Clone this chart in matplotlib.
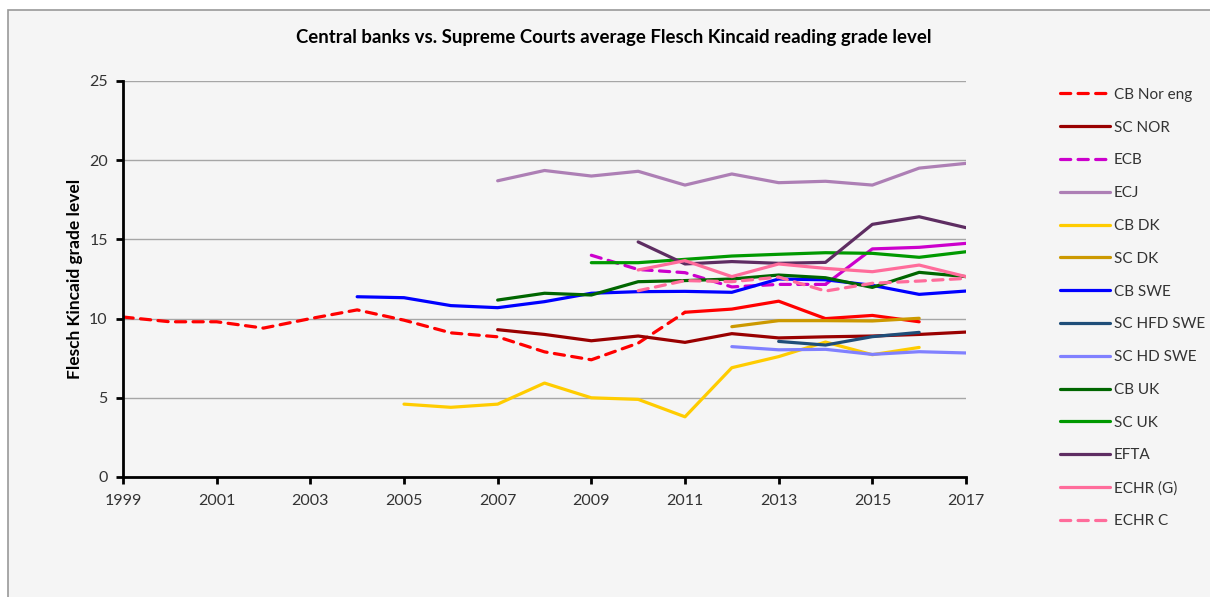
import matplotlib.pyplot as plt
from matplotlib.patches import Rectangle

# years on the category axis
years = list(range(1999, 2018))

# series values (None = no data for that year)
cb_nor_eng = [10.1, 9.8, 9.8, 9.4, 10.0, 10.55, 9.9, 9.1, 8.85, 7.9, 7.4, 8.45,
              10.4, 10.6, 11.1, 10.0, 10.2, 9.8, None]
sc_nor = [None]*8 + [9.3, 9.0, 8.6, 8.9, 8.5, 9.05, 8.78, 8.85, 8.9, 9.0, 9.15]
ecb = [None]*10 + [14.0, 13.1, 12.9, 12.0, 12.16, 12.16, 14.4, 14.5, 14.75]
ecj = [None]*8 + [18.7, 19.35, 19.0, 19.3, 18.43, 19.13, 18.58, 18.67, 18.43, 19.5, 19.8]
cb_dk = [None]*6 + [4.6, 4.4, 4.6, 5.93, 5.0, 4.9, 3.8, 6.9, 7.6, 8.52, 7.72, 8.18, None]
sc_dk = [None]*13 + [9.49, 9.87, 9.87, 9.85, 10.02, None]
cb_swe = [None]*5 + [11.38, 11.32, 10.82, 10.69, 11.07, 11.6, 11.7, 11.72, 11.66,
                     12.5, 12.45, 12.1, 11.53, 11.74]
sc_hfd_swe = [None]*14 + [8.56, 8.33, 8.86, 9.13, None]
sc_hd_swe = [None]*13 + [8.23, 8.03, 8.06, 7.74, 7.91, 7.83]
cb_uk = [None]*8 + [11.17, 11.6, 11.49, 12.33, 12.4, 12.5, 12.75, 12.58, 11.97, 12.92, 12.65]
sc_uk = [None]*10 + [13.53, 13.53, 13.74, 13.95, 14.06, 14.16, 14.12, 13.87, 14.22]
efta = [None]*11 + [14.84, 13.45, 13.6, 13.49, 13.55, 15.95, 16.43, 15.74]
echr_g = [None]*11 + [13.07, 13.66, 12.65, 13.45, 13.17, 12.96, 13.38, 12.65]
echr_c = [None]*11 + [11.76, 12.4, 12.33, 12.62, 11.74, 12.23, 12.37, 12.54]

labels = ['CB Nor eng', 'SC NOR', 'ECB', 'ECJ', 'CB DK', 'SC DK', 'CB SWE',
          'SC HFD SWE', 'SC HD SWE', 'CB UK', 'SC UK', 'EFTA', 'ECHR (G)', 'ECHR C']
series = [cb_nor_eng, sc_nor, ecb, ecj, cb_dk, sc_dk, cb_swe,
          sc_hfd_swe, sc_hd_swe, cb_uk, sc_uk, efta, echr_g, echr_c]
colors = ['#FF0000', '#990000', '#CC00CC', '#AD7FB5', '#FFCC00', '#CC9900', '#0000FF',
          '#1F4E79', '#8080FF', '#006600', '#009900', '#5E2D62', '#FF6C9B', '#FF6C9B']
# last year drawn dashed (None = fully solid, 9999 = fully dashed)
dashed_until = [2011, None, 2014, None, None, None, None,
                None, None, None, None, None, None, 9999]

plt.rcParams['font.family'] = ['Lato', 'DejaVu Sans']

fig = plt.figure(figsize=(12.1, 5.97), dpi=100, facecolor='white')
# chart area box, runs off the right and bottom edges like the reference
fig.patches.append(Rectangle((8/1210, -0.1), 1.2, 1.1 - 10/597, transform=fig.transFigure,
                             facecolor='#F5F5F5', edgecolor='#999999', lw=1.2, zorder=-10))
ax = fig.add_axes([123/1210, 1 - 477/597, (966 - 123)/1210, (477 - 81)/597])
ax.set_facecolor('#F5F5F5')

lw = 2.3
handles = []
for vals, lab, c, du in zip(series, labels, colors, dashed_until):
    pts = [(y, v) for y, v in zip(years, vals) if v is not None]
    xs = [p[0] for p in pts]
    ys = [p[1] for p in pts]
    if du is None:
        h, = ax.plot(xs, ys, color=c, lw=lw, solid_capstyle='round', solid_joinstyle='round')
    else:
        dx = [x for x in xs if x <= du]
        dy = ys[:len(dx)]
        h, = ax.plot(dx, dy, color=c, lw=lw, dashes=(3.2, 2.3), dash_capstyle='round')
        if len(dx) < len(xs):
            ax.plot(xs[len(dx) - 1:], ys[len(dx) - 1:], color=c, lw=lw,
                    solid_capstyle='round', solid_joinstyle='round')
    handles.append(h)

ax.set_xlim(1999, 2017)
ax.set_ylim(0, 25)
ax.set_xticks(range(1999, 2018, 2))
ax.set_yticks(range(0, 26, 5))
ax.grid(axis='y', color='#A6A6A6', lw=1)
ax.set_axisbelow(True)
for s in ['top', 'right']:
    ax.spines[s].set_visible(False)
for s in ['left', 'bottom']:
    ax.spines[s].set_linewidth(2)
    ax.spines[s].set_color('black')
ax.tick_params(axis='both', direction='out', length=5, width=2, labelsize=11.5,
               colors='black', labelcolor='#333333')
ax.tick_params(axis='y', pad=6)
ax.tick_params(axis='x', pad=7)

ax.set_ylabel('Flesch Kincaid grade level', fontsize=12.5, fontweight='bold', labelpad=4)
fig.text(614/1210, 1 - 37/597, 'Central banks vs. Supreme Courts average Flesch Kincaid reading grade level',
         ha='center', va='center', fontsize=13.4, fontweight='bold', color='black')

fig.legend(handles, labels, loc='upper left', bbox_to_anchor=(1046/1210, 1 - 74/597),
           frameon=False, fontsize=11.0, handlelength=3.3, handletextpad=0.25,
           labelspacing=1.23, labelcolor='#333333')

fig.savefig('out.png', dpi=100, facecolor=fig.get_facecolor())
